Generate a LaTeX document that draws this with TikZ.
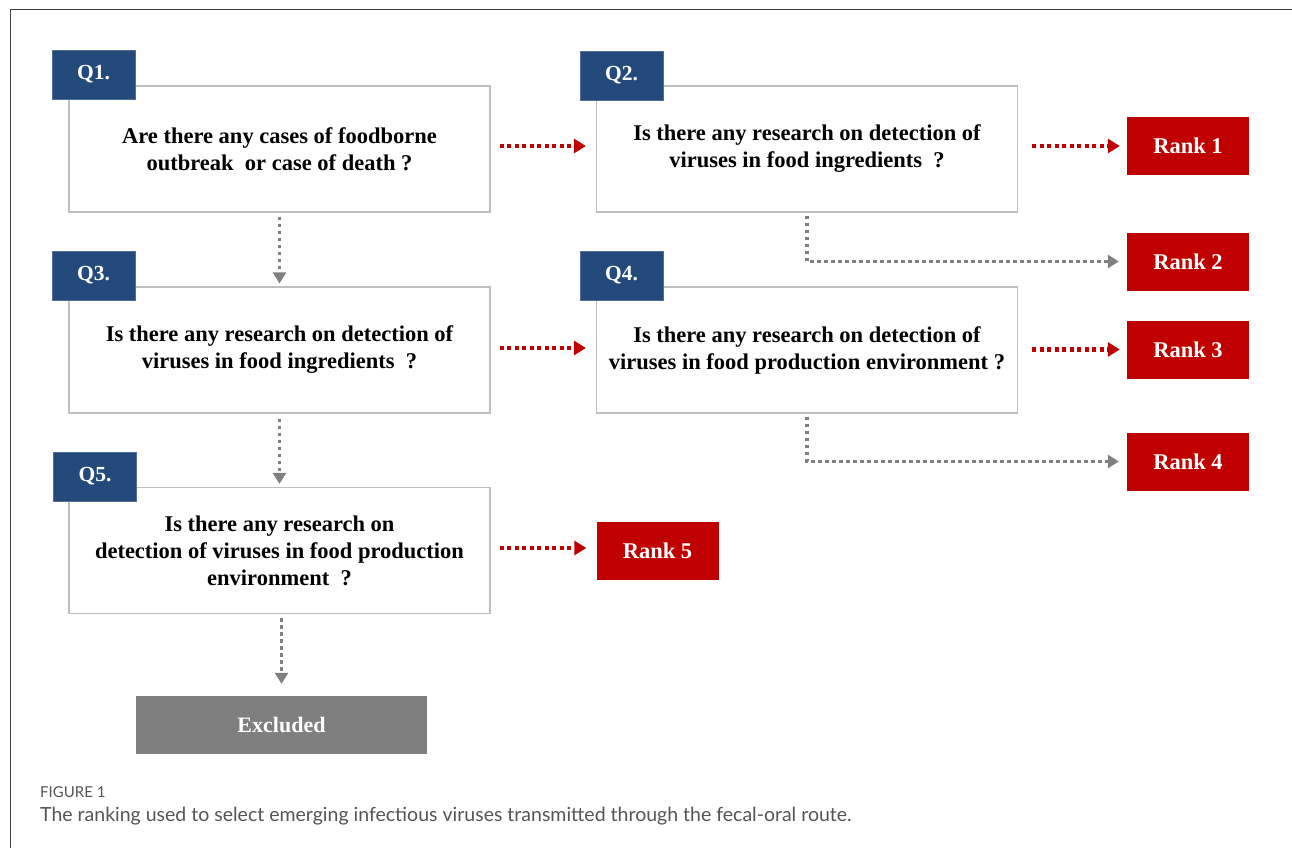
\documentclass[tikz,border=0pt]{standalone}
\usepackage{fontspec}
\setmainfont{Liberation Serif}
\newfontfamily\capfont{Lato}
\usetikzlibrary{arrows.meta}
\definecolor{navy}{HTML}{244A7C}
\definecolor{rankred}{HTML}{C00000}
\definecolor{boxgray}{HTML}{BFBFBF}
\definecolor{arrgray}{HTML}{808080}
\definecolor{exgray}{HTML}{7F7F7F}
\definecolor{captxt}{HTML}{555555}
\tikzset{
  x=1pt, y=-1pt,
  qbox/.style={draw=boxgray, line width=1.2pt, fill=white, minimum width=421pt, minimum height=126pt, inner sep=0pt, align=center, font=\fontsize{22.5}{27}\selectfont\bfseries},
  qtag/.style={fill=navy, draw=navy!80!white, line width=0.6pt, minimum width=83pt, minimum height=49pt, inner sep=0pt, text=white, font=\fontsize{21.5}{22}\selectfont\bfseries},
  rankbox/.style={fill=rankred, minimum width=122pt, minimum height=58pt, inner sep=0pt, text=white, font=\fontsize{22.5}{22}\selectfont\bfseries},
  exbox/.style={fill=exgray, minimum width=291pt, minimum height=58pt, inner sep=0pt, text=white, font=\fontsize{22}{22}\selectfont\bfseries},
  redarr/.style={draw=rankred, line width=4.5pt, dash pattern=on 4pt off 3.5pt, -{Triangle[length=12pt,width=14pt,fill=rankred]}},
  grayarr/.style={draw=arrgray, line width=3.8pt, dash pattern=on 3.5pt off 3.5pt, -{Triangle[length=11pt,width=13pt,fill=arrgray]}},
}
\begin{document}
\begin{tikzpicture}
\useasboundingbox (0,0) rectangle (1292,848);
\fill[white] (0,0) rectangle (1292,848);
\draw[line width=1pt, black!75] (1292,10) -- (10,10) -- (10,848);

% question boxes
\node[qbox] (q1) at (279.5,149) {Are there any cases of foodborne\\outbreak\ \ or case of death ?};
\node[qbox] (q2) at (807,149) {Is there any research on detection of\\viruses in food ingredients\ \ ?};
\node[qbox] (q3) at (279.5,350) {Is there any research on detection of\\viruses in food ingredients\ \ ?};
\node[qbox] (q4) at (807,350) {Is there any research on detection of\\viruses in food production environment ?};
\node[qbox] (q5) at (279.5,550.5) {Is there any research on\\detection of viruses in food production\\environment\ \ ?};

% tags
\node[qtag] (t1) at (93.5,74.5) {Q1.};
\node[qtag] (t2) at (621.5,75.5) {Q2.};
\node[qtag] (t3) at (93.5,275.5) {Q3.};
\node[qtag] (t4) at (621.5,275.5) {Q4.};
\node[qtag] (t5) at (95,476.5) {Q5.};

% ranks
\node[rankbox] (r1) at (1188,146) {Rank 1};
\node[rankbox] (r2) at (1188,261.5) {Rank 2};
\node[rankbox] (r3) at (1188,349.5) {Rank 3};
\node[rankbox] (r4) at (1188,461.5) {Rank 4};
\node[rankbox] (r5) at (657.5,551) {Rank 5};
\node[exbox] (ex) at (281.5,725) {Excluded};

% red arrows
\draw[redarr, shorten <=9pt, shorten >=10pt] (q1.east |- 0,146) -- (q2.west |- 0,146);
\draw[redarr, shorten <=14pt, shorten >=7pt] (q2.east |- r1.west) -- (r1.west);
\draw[redarr, shorten <=9pt, shorten >=10pt] (q3.east |- 0,348) -- (q4.west |- 0,348);
\draw[redarr, shorten <=14pt, shorten >=7pt] (q4.east |- r3.west) -- (r3.west);
\draw[redarr, shorten <=9pt, shorten >=10pt] (q5.east |- 0,548) -- (r5.west |- 0,548);

% gray arrows
\draw[grayarr, shorten <=4pt, shorten >=3pt] (q1.south) -- (q3.north);
\draw[grayarr, shorten <=5pt, shorten >=3pt] (q3.south) -- (q5.north);
\draw[grayarr, shorten <=4pt, shorten >=12pt] (q5.south -| ex.north) -- (ex.north);
\draw[grayarr, shorten <=3pt, shorten >=8pt] (q2.south) -- (q2.south |- r2.west) -- (r2.west);
\draw[grayarr, shorten <=3pt, shorten >=8pt] (q4.south) -- (q4.south |- r4.west) -- (r4.west);

% caption
\node[anchor=base west, inner sep=0pt, text=captxt, font=\capfont\fontsize{15}{17}\selectfont] (fig) at (40,797) {FIGURE 1};
\node[anchor=base west, inner sep=0pt, text=captxt, font=\capfont\fontsize{19.5}{22}\selectfont] (cap) at (40,821) {The ranking used to select emerging infectious viruses transmitted through the fecal-oral route.};
\end{tikzpicture}
\end{document}
